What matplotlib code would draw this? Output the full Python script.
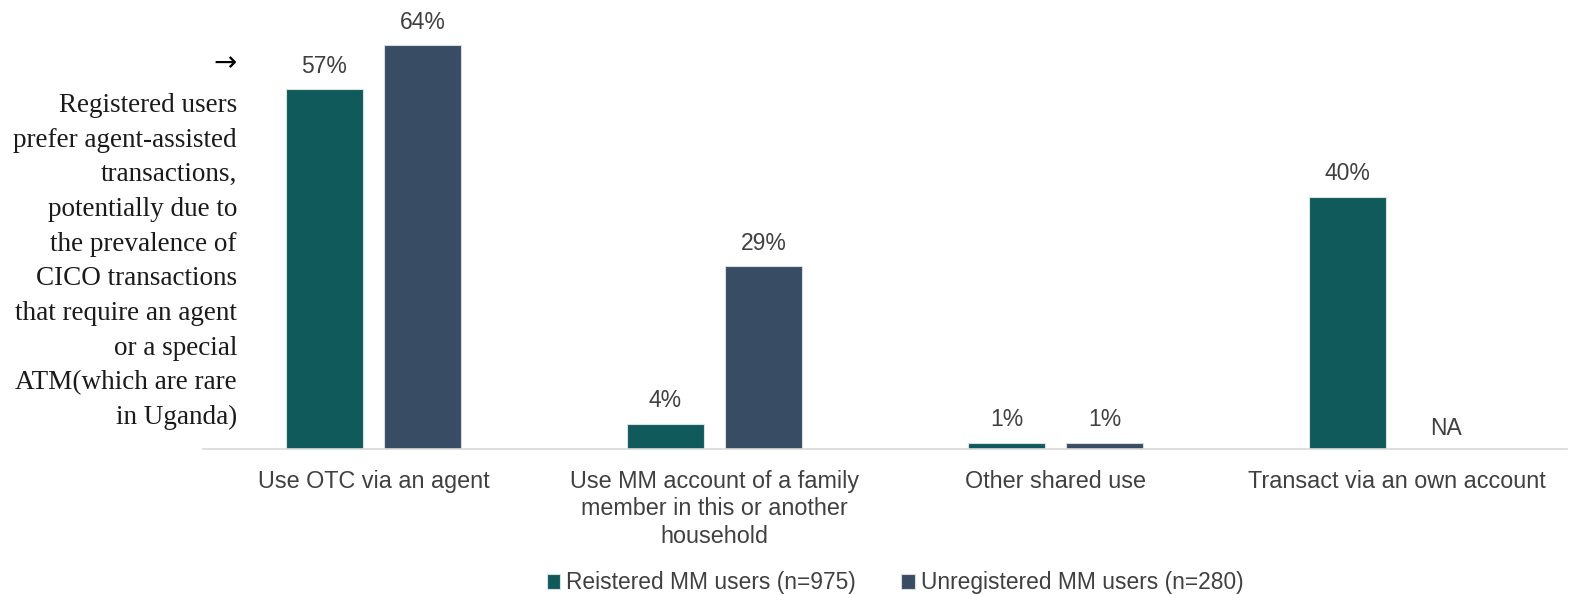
import matplotlib
matplotlib.use("Agg")
import matplotlib.pyplot as plt
import numpy as np

categories = ["Use OTC via an agent",
              "Use MM account of a family\nmember in this or another\nhousehold",
              "Other shared use",
              "Transact via an own account"]
registered = [57, 4, 1, 40]
unregistered = [64, 29, 1, None]
series_names = ["Reistered MM users (n=975)", "Unregistered MM users (n=280)"]
annotation = ("Registered users\nprefer agent-assisted\ntransactions,\npotentially due to\n"
              "the prevalence of\nCICO transactions\nthat require an agent\nor a special\n"
              "ATM(which are rare\nin Uganda)")

W, H = 1578, 595
fig = plt.figure(figsize=(W/100, H/100), dpi=100)
ax = fig.add_axes([203/W, (H-449)/H, 1364/W, 449/H])

c_reg = "#115a5c"
c_unr = "#384c63"
x = np.arange(len(categories))
bw = 0.223
off = 0.1437
reg_vals = [v for v in registered]
unr_vals = [v if v is not None else 0 for v in unregistered]
b1 = ax.bar(x - off, reg_vals, bw, color=c_reg, edgecolor="#d8e0e0", linewidth=0.8, label=series_names[0])
b2 = ax.bar(x + off, unr_vals, bw, color=c_unr, edgecolor="#d8dce2", linewidth=0.8, label=series_names[1])

FS = 16.5
lab_kw = dict(ha="center", va="bottom", fontsize=FS, color="#404040", family="Liberation Sans")
for xi, v in zip(x, registered):
    ax.text(xi - off, v + 1.8, f"{v}%", **lab_kw)
for xi, v in zip(x, unregistered):
    if v is None:
        ax.text(xi + off, 1.4, "NA", **lab_kw)
    else:
        ax.text(xi + off, v + 1.8, f"{v}%", **lab_kw)

ax.set_xlim(-0.5, len(categories) - 0.5)
ax.set_ylim(0, 71.13)
ax.set_yticks([])
ax.set_xticks(x)
ax.set_xticklabels(categories, fontsize=16.8, color="#404040", family="Liberation Sans", linespacing=1.25)
ax.tick_params(axis="x", length=0, pad=15)
for s in ["top", "right", "left"]:
    ax.spines[s].set_visible(False)
ax.spines["bottom"].set_color("#d9d9d9")
ax.spines["bottom"].set_linewidth(1.2)

fig.text(237/W, 1 - 63/H, "→", ha="right", va="center", fontsize=20, color="black", family="DejaVu Sans")
fig.text(237/W, 1 - 93/H, annotation, ha="right", va="top", fontsize=19.5,
         color="#1a1a1a", family="Liberation Serif", linespacing=1.51)

leg = fig.legend(handles=[b1, b2], loc="center", bbox_to_anchor=(895/W, 1 - 583/H), ncol=2,
                 frameon=False, handlelength=0.6, handleheight=0.6,
                 handletextpad=0.25, columnspacing=2.0,
                 prop={"family": "Liberation Sans", "size": 16.4})
for t in leg.get_texts():
    t.set_color("#404040")

fig.savefig("out.png", dpi=100)
